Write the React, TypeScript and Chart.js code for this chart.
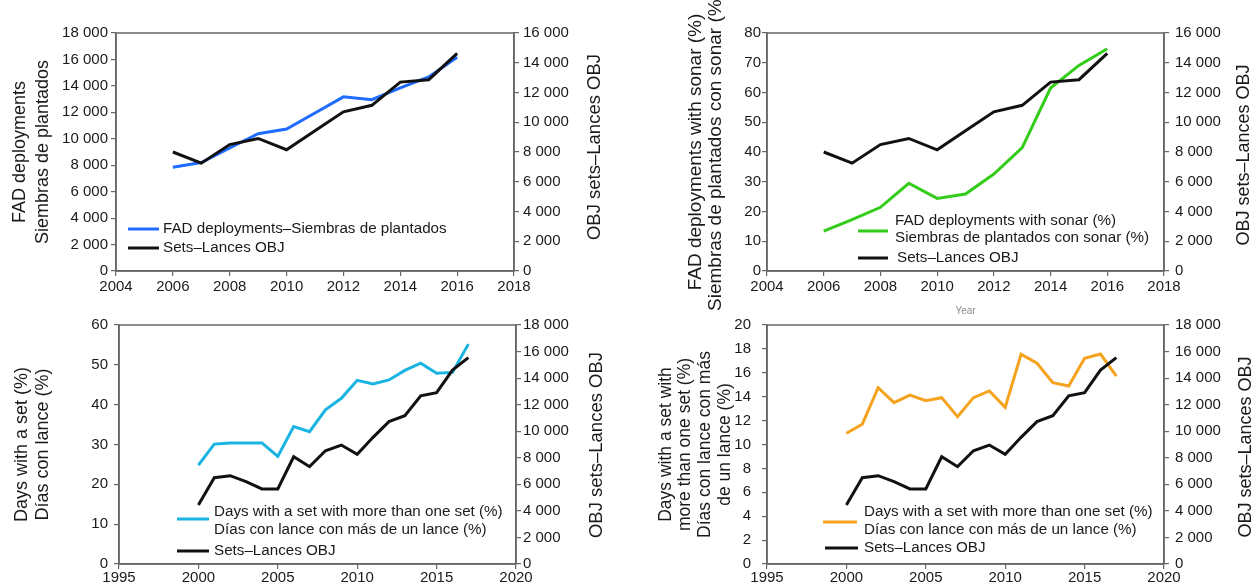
import React, { useEffect, useRef } from "react";
import { Chart, registerables } from "chart.js";

Chart.register(...registerables);

// ---------- DATA ----------
const yearsTop = [2006, 2007, 2008, 2009, 2010, 2011, 2012, 2013, 2014, 2015, 2016];
const fadDeployments = [7850, 8200, 9300, 10380, 10740, 11950, 13170, 12960, 13850, 14680, 16170];
const objSetsTop = [8000, 7250, 8500, 8910, 8150, 9430, 10700, 11140, 12700, 12860, 14630];
const sonarPct = [13.4, 17.3, 21.4, 29.5, 24.4, 25.9, 32.6, 41.5, 61.5, 69.1, 74.7];

const yearsBottom = [2000, 2001, 2002, 2003, 2004, 2005, 2006, 2007, 2008, 2009, 2010, 2011, 2012, 2013, 2014, 2015, 2016, 2017];
const daysWithSetPct = [24.8, 30.1, 30.4, 30.4, 30.4, 27.0, 34.5, 33.2, 38.7, 41.6, 46.1, 45.2, 46.2, 48.6, 50.4, 47.9, 48.1, 55.2];
const multiSetDaysPct = [10.94, 11.7, 14.75, 13.5, 14.14, 13.67, 13.92, 12.33, 13.92, 14.48, 13.11, 17.55, 16.8, 15.17, 14.9, 17.21, 17.57, 15.73];
const objSetsBottom = [4440, 6500, 6650, 6200, 5650, 5650, 8080, 7330, 8530, 8960, 8260, 9540, 10720, 11170, 12670, 12900, 14600, 15540];

const objLabel = "Sets\u2013Lances OBJ";
const objAxisTitle = "OBJ sets\u2013Lances OBJ";

const FONT = "'Liberation Sans', Arial, Helvetica, sans-serif";
const AXIS = "#666666";
const TEXT = "#1a1a1a";

const fmt = (v: number) => String(v).replace(/\B(?=(\d{3})+(?!\d))/g, " ");

type LegendItem = { color: string; lines: string[]; sx1: number; sx2: number; sy: number; tx: number; ty: number[] };

type Spec = {
  left: number; top: number; width: number; height: number;
  padTop: number; leftW: number; rightW: number; xH: number;
  xMin: number; xMax: number; xStep: number;
  yMax: number; yStep: number; y2Max: number; y2Step: number;
  years: number[]; series: number[]; color: string; obj: number[];
  leftTitle: string[]; ltSize: number; ltLH: number; ltPad: number;
  rtX: number; rtY: number; rtSize: number;
  ltickPad: number; rtickPad: number; xtickPad: number;
  xTitle?: string;
  legend: LegendItem[];
};

const boxPlugin = {
  id: "boxPlugin",
  afterDraw(chart: any, _args: any, opts: any) {
    const { ctx, chartArea } = chart;
    ctx.save();
    ctx.strokeStyle = AXIS;
    ctx.lineWidth = 1.5;
    ctx.strokeRect(chartArea.left, chartArea.top, chartArea.right - chartArea.left, chartArea.bottom - chartArea.top);
    const items: LegendItem[] = opts.items || [];
    ctx.font = `15.2px ${FONT}`;
    ctx.textBaseline = "middle";
    ctx.textAlign = "left";
    for (const it of items) {
      ctx.strokeStyle = it.color;
      ctx.lineWidth = 3;
      ctx.beginPath();
      ctx.moveTo(it.sx1, it.sy);
      ctx.lineTo(it.sx2, it.sy);
      ctx.stroke();
      ctx.fillStyle = TEXT;
      it.lines.forEach((l, i) => ctx.fillText(l, it.tx, it.ty[i]));
    }
    // right axis title, reading bottom to top
    if (opts.rightTitle) {
      const rt = opts.rightTitle;
      ctx.translate(rt.x, rt.y);
      ctx.rotate(-Math.PI / 2);
      ctx.font = `${rt.size}px ${FONT}`;
      ctx.textAlign = "center";
      ctx.textBaseline = "middle";
      ctx.fillStyle = TEXT;
      ctx.fillText(rt.text, 0, 0);
    }
    ctx.restore();
  },
};

function Panel({ s }: { s: Spec }) {
  const ref = useRef<HTMLCanvasElement>(null);
  useEffect(() => {
    if (!ref.current) return;
    const gridOpts = { display: true, drawOnChartArea: false, drawTicks: true, tickLength: 5, color: AXIS, lineWidth: 1.2 };
    const chart = new Chart(ref.current, {
      type: "line",
      data: {
        datasets: [
          {
            label: objLabel,
            data: s.years.map((y, i) => ({ x: y, y: s.obj[i] })),
            borderColor: "#111111",
            borderWidth: 3,
            pointRadius: 0,
            tension: 0,
            yAxisID: "y2",
            order: 0,
          },
          {
            label: "series",
            data: s.years.map((y, i) => ({ x: y, y: s.series[i] })),
            borderColor: s.color,
            borderWidth: 3,
            pointRadius: 0,
            tension: 0,
            yAxisID: "y",
            order: 1,
          },
        ],
      },
      options: {
        responsive: false,
        maintainAspectRatio: false,
        animation: false,
        devicePixelRatio: 1,
        layout: { padding: { top: s.padTop, left: 0, right: 0, bottom: 0 } },
        plugins: {
          legend: { display: false },
          tooltip: { enabled: false },
          boxPlugin: { items: s.legend, rightTitle: { text: objAxisTitle, x: s.rtX, y: s.rtY, size: s.rtSize } },
        } as any,
        scales: {
          x: {
            type: "linear",
            min: s.xMin,
            max: s.xMax,
            grid: gridOpts,
            border: { display: true, color: AXIS, width: 1.5 },
            ticks: {
              stepSize: s.xStep,
              autoSkip: false,
              maxRotation: 0,
              padding: s.xtickPad,
              color: TEXT,
              font: { size: 15, family: FONT },
              callback: (v: any) => String(v),
            },
            title: s.xTitle
              ? { display: true, text: s.xTitle, color: "#8a8a8a", font: { size: 10, family: FONT, lineHeight: 1.2 }, padding: { top: 0, bottom: 3 } }
              : { display: false },
            afterFit: (sc: any) => { sc.height = s.xH; },
          },
          y: {
            type: "linear",
            position: "left",
            min: 0,
            max: s.yMax,
            grid: gridOpts,
            border: { display: true, color: AXIS, width: 1.5 },
            ticks: {
              stepSize: s.yStep,
              padding: s.ltickPad,
              color: TEXT,
              font: { size: 15, family: FONT },
              callback: (v: any) => fmt(v),
            },
            title: { display: true, text: s.leftTitle, color: TEXT, font: { size: s.ltSize, family: FONT, lineHeight: s.ltLH }, padding: { top: s.ltPad, bottom: 0 } },
            afterFit: (sc: any) => { sc.width = s.leftW; },
          },
          y2: {
            type: "linear",
            position: "right",
            min: 0,
            max: s.y2Max,
            grid: gridOpts,
            border: { display: true, color: AXIS, width: 1.5 },
            ticks: {
              stepSize: s.y2Step,
              padding: s.rtickPad,
              color: TEXT,
              font: { size: 15, family: FONT },
              callback: (v: any) => fmt(v),
            },
            title: { display: false },
            afterFit: (sc: any) => { sc.width = s.rightW; },
          },
        } as any,
      },
      plugins: [boxPlugin as any],
    });
    return () => chart.destroy();
  }, [s]);
  return (
    <canvas
      ref={ref}
      width={s.width}
      height={s.height}
      style={{ position: "absolute", left: s.left, top: s.top, width: s.width, height: s.height }}
    />
  );
}

const panels: Spec[] = [
  {
    left: 0, top: 0, width: 628, height: 320,
    padTop: 33, leftW: 116, rightW: 114, xH: 49,
    xMin: 2004, xMax: 2018, xStep: 2,
    yMax: 18000, yStep: 2000, y2Max: 16000, y2Step: 2000,
    years: yearsTop, series: fadDeployments, color: "#1f6cff", obj: objSetsTop,
    leftTitle: ["FAD deployments", "Siembras de plantados"], ltSize: 18, ltLH: 1.28, ltPad: 8.5,
    rtX: 595, rtY: 147, rtSize: 18.5,
    ltickPad: 3, rtickPad: 4, xtickPad: 2,
    legend: [
      { color: "#1f6cff", lines: ["FAD deployments\u2013Siembras de plantados"], sx1: 128, sx2: 159, sy: 229, tx: 163, ty: [229] },
      { color: "#111111", lines: [objLabel], sx1: 128, sx2: 159, sy: 248, tx: 163, ty: [248] },
    ],
  },
  {
    left: 628, top: 0, width: 628, height: 320,
    padTop: 33, leftW: 139, rightW: 92, xH: 49,
    xMin: 2004, xMax: 2018, xStep: 2,
    yMax: 80, yStep: 10, y2Max: 16000, y2Step: 2000,
    years: yearsTop, series: sonarPct, color: "#33cc1a", obj: objSetsTop,
    leftTitle: ["FAD deployments with sonar (%)", "Siembras de plantados con sonar (%)"], ltSize: 19, ltLH: 1.05, ltPad: 58,
    rtX: 616, rtY: 155, rtSize: 18,
    ltickPad: 1, rtickPad: 6, xtickPad: 2,
    xTitle: "Year",
    legend: [
      { color: "#33cc1a", lines: ["FAD deployments with sonar (%)", "Siembras de plantados con sonar (%)"], sx1: 230, sx2: 260, sy: 231, tx: 267, ty: [221, 238] },
      { color: "#111111", lines: [objLabel], sx1: 230, sx2: 260, sy: 258, tx: 269, ty: [258] },
    ],
  },
  {
    left: 0, top: 300, width: 628, height: 288,
    padTop: 25, leftW: 119, rightW: 112, xH: 24,
    xMin: 1995, xMax: 2020, xStep: 5,
    yMax: 60, yStep: 10, y2Max: 18000, y2Step: 2000,
    years: yearsBottom, series: daysWithSetPct, color: "#1ab4e2", obj: objSetsBottom,
    leftTitle: ["Days with a set (%)", "D\u00edas con lance (%)"], ltSize: 18, ltLH: 1.17, ltPad: 11.5,
    rtX: 597, rtY: 145, rtSize: 18.5,
    ltickPad: 6, rtickPad: 2, xtickPad: 0,
    legend: [
      { color: "#1ab4e2", lines: ["Days with a set with more than one set (%)", "D\u00edas con lance con m\u00e1s de un lance (%)"], sx1: 177, sx2: 209, sy: 219, tx: 214, ty: [212, 230] },
      { color: "#111111", lines: [objLabel], sx1: 177, sx2: 209, sy: 251, tx: 214, ty: [251] },
    ],
  },
  {
    left: 628, top: 300, width: 628, height: 288,
    padTop: 25, leftW: 139, rightW: 92, xH: 24,
    xMin: 1995, xMax: 2020, xStep: 5,
    yMax: 20, yStep: 2, y2Max: 18000, y2Step: 2000,
    years: yearsBottom, series: multiSetDaysPct, color: "#f5a21e", obj: objSetsBottom,
    leftTitle: ["Days with a set with", "more than one set (%)", "D\u00edas con lance con m\u00e1s", "de un lance (%)"], ltSize: 17.5, ltLH: 1.125, ltPad: 28,
    rtX: 618, rtY: 147, rtSize: 18,
    ltickPad: 11, rtickPad: 6, xtickPad: 0,
    legend: [
      { color: "#f5a21e", lines: ["Days with a set with more than one set (%)", "D\u00edas con lance con m\u00e1s de un lance (%)"], sx1: 195, sx2: 229, sy: 222, tx: 236, ty: [212, 230] },
      { color: "#111111", lines: [objLabel], sx1: 197, sx2: 230, sy: 248, tx: 236, ty: [248] },
    ],
  },
];

export default function App() {
  return (
    <div style={{ position: "absolute", left: 0, top: 0, width: 1256, height: 588, background: "#ffffff", overflow: "hidden" }}>
      {panels.map((p, i) => (
        <Panel key={i} s={p} />
      ))}
    </div>
  );
}
